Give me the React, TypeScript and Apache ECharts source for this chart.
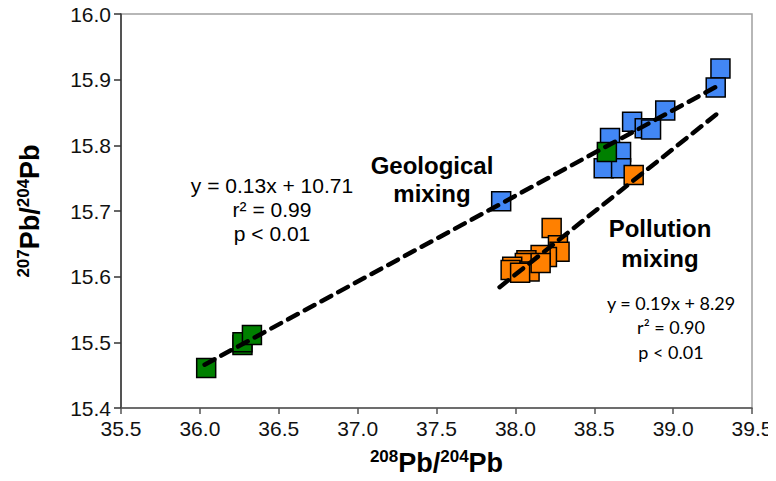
import React, { useEffect, useRef } from "react";
import * as echarts from "echarts";

// 208Pb/204Pb (x) and 207Pb/204Pb (y) isotope ratios by sample group
const blueX = [39.30, 39.27, 38.95, 38.74, 38.82, 38.86, 38.60, 38.67, 38.56, 38.67, 37.91];
const blueY = [15.917, 15.888, 15.853, 15.836, 15.826, 15.824, 15.811, 15.790, 15.765, 15.765, 15.715];

const orangeX = [38.75, 38.23, 38.27, 38.28, 38.20, 38.16, 38.07, 38.06, 37.98, 37.97, 38.09, 38.03, 38.16];
const orangeY = [15.755, 15.674, 15.648, 15.638, 15.630, 15.633, 15.625, 15.621, 15.615, 15.610, 15.608, 15.606, 15.621];

const greenX = [36.04, 36.27, 36.27, 36.33, 38.58];
const greenY = [15.461, 15.496, 15.500, 15.511, 15.790];

// Mixing line end points
const geoLineX = [36.03, 39.31];
const geoLineY = [15.466, 15.894];
const polLineX = [37.90, 39.31];
const polLineY = [15.584, 15.854];

const xTicks = { min: 35.5, max: 39.5, interval: 0.5 };
const yTicks = { min: 15.4, max: 16.0, interval: 0.1 };

const zip = (xs: number[], ys: number[]) => xs.map((x, i) => [x, ys[i]]);

const ARIAL = "'Liberation Sans', Arial, sans-serif";

export default function App() {
  const ref = useRef<HTMLDivElement>(null);

  useEffect(() => {
    if (!ref.current) return;
    const chart = echarts.init(ref.current, null, { renderer: "svg" });

    const square = (color: string, data: number[][], z: number) => ({
      type: "scatter",
      data,
      symbol: "rect",
      symbolSize: 19,
      z,
      itemStyle: { color, borderColor: "#000", borderWidth: 1.5, opacity: 1 },
    });

    const dashed = (data: number[][]) => ({
      type: "line",
      data,
      showSymbol: false,
      z: 10,
      lineStyle: { color: "#000", width: 4.5, type: [11, 8], cap: "round" },
    });

    const titleRich = {
      sup: { fontSize: 17, fontWeight: "bold", fontFamily: ARIAL, color: "#000", verticalAlign: "top", lineHeight: 30 },
      b: { fontSize: 27, fontWeight: "bold", fontFamily: ARIAL, color: "#000", lineHeight: 30 },
    };

    const tickLabel = {
      fontSize: 21,
      fontFamily: ARIAL,
      color: "#111",
      margin: 10,
      formatter: (v: number) => v.toFixed(1),
    };

    chart.setOption({
      animation: false,
      grid: {
        left: 121,
        right: 24,
        top: 14,
        bottom: 73,
        show: true,
        borderColor: "#a0a0a0",
        borderWidth: 1.5,
        outerBoundsMode: "none",
      },
      xAxis: {
        type: "value",
        ...xTicks,
        name: "{sup|208}{b|Pb/}{sup|204}{b|Pb}",
        nameLocation: "middle",
        nameGap: 40,
        nameTextStyle: { rich: titleRich },
        axisLine: { lineStyle: { color: "#555", width: 1.5 } },
        axisTick: { length: 6, lineStyle: { color: "#555", width: 1.5 } },
        axisLabel: tickLabel,
        splitLine: { show: false },
      },
      yAxis: {
        type: "value",
        ...yTicks,
        name: "{sup|207}{b|Pb/}{sup|204}{b|Pb}",
        nameLocation: "middle",
        nameGap: 76,
        nameTextStyle: { rich: titleRich },
        axisLine: { lineStyle: { color: "#333", width: 1.5 } },
        axisTick: { length: 7, lineStyle: { color: "#333", width: 1.5 } },
        axisLabel: tickLabel,
        splitLine: { show: false },
      },
      series: [
        square("#4287f5", zip(blueX, blueY), 2),
        square("#ff8000", zip(orangeX, orangeY), 3),
        square("#008000", zip(greenX, greenY), 4),
        dashed(zip(geoLineX, geoLineY)),
        dashed(zip(polLineX, polLineY)),
      ],
      graphic: [
        {
          type: "text",
          x: 432,
          y: 179,
          z: 20,
          style: {
            text: "Geological\nmixing",
            font: `bold 24px ${ARIAL}`,
            fill: "#000",
            align: "center",
            verticalAlign: "middle",
            lineHeight: 28,
          },
        },
        {
          type: "text",
          x: 272,
          y: 209,
          z: 20,
          style: {
            text: "y = 0.13x + 10.71\nr² = 0.99\np < 0.01",
            font: `21px ${ARIAL}`,
            fill: "#000",
            align: "center",
            verticalAlign: "middle",
            lineHeight: 24,
          },
        },
        {
          type: "text",
          x: 660,
          y: 243,
          z: 20,
          style: {
            text: "Pollution\nmixing",
            font: `bold 24px ${ARIAL}`,
            fill: "#000",
            align: "center",
            verticalAlign: "middle",
            lineHeight: 30,
          },
        },
        {
          type: "text",
          x: 671,
          y: 327,
          z: 20,
          style: {
            text: "y = 0.19x + 8.29\nr² = 0.90\np < 0.01",
            font: `18px Lato, 'Open Sans', sans-serif`,
            fill: "#000",
            align: "center",
            verticalAlign: "middle",
            lineHeight: 24.5,
          },
        },
      ],
    });

    return () => chart.dispose();
  }, []);

  return <div ref={ref} style={{ width: 776, height: 481, marginLeft: -8, marginTop: -8 }} />;
}
